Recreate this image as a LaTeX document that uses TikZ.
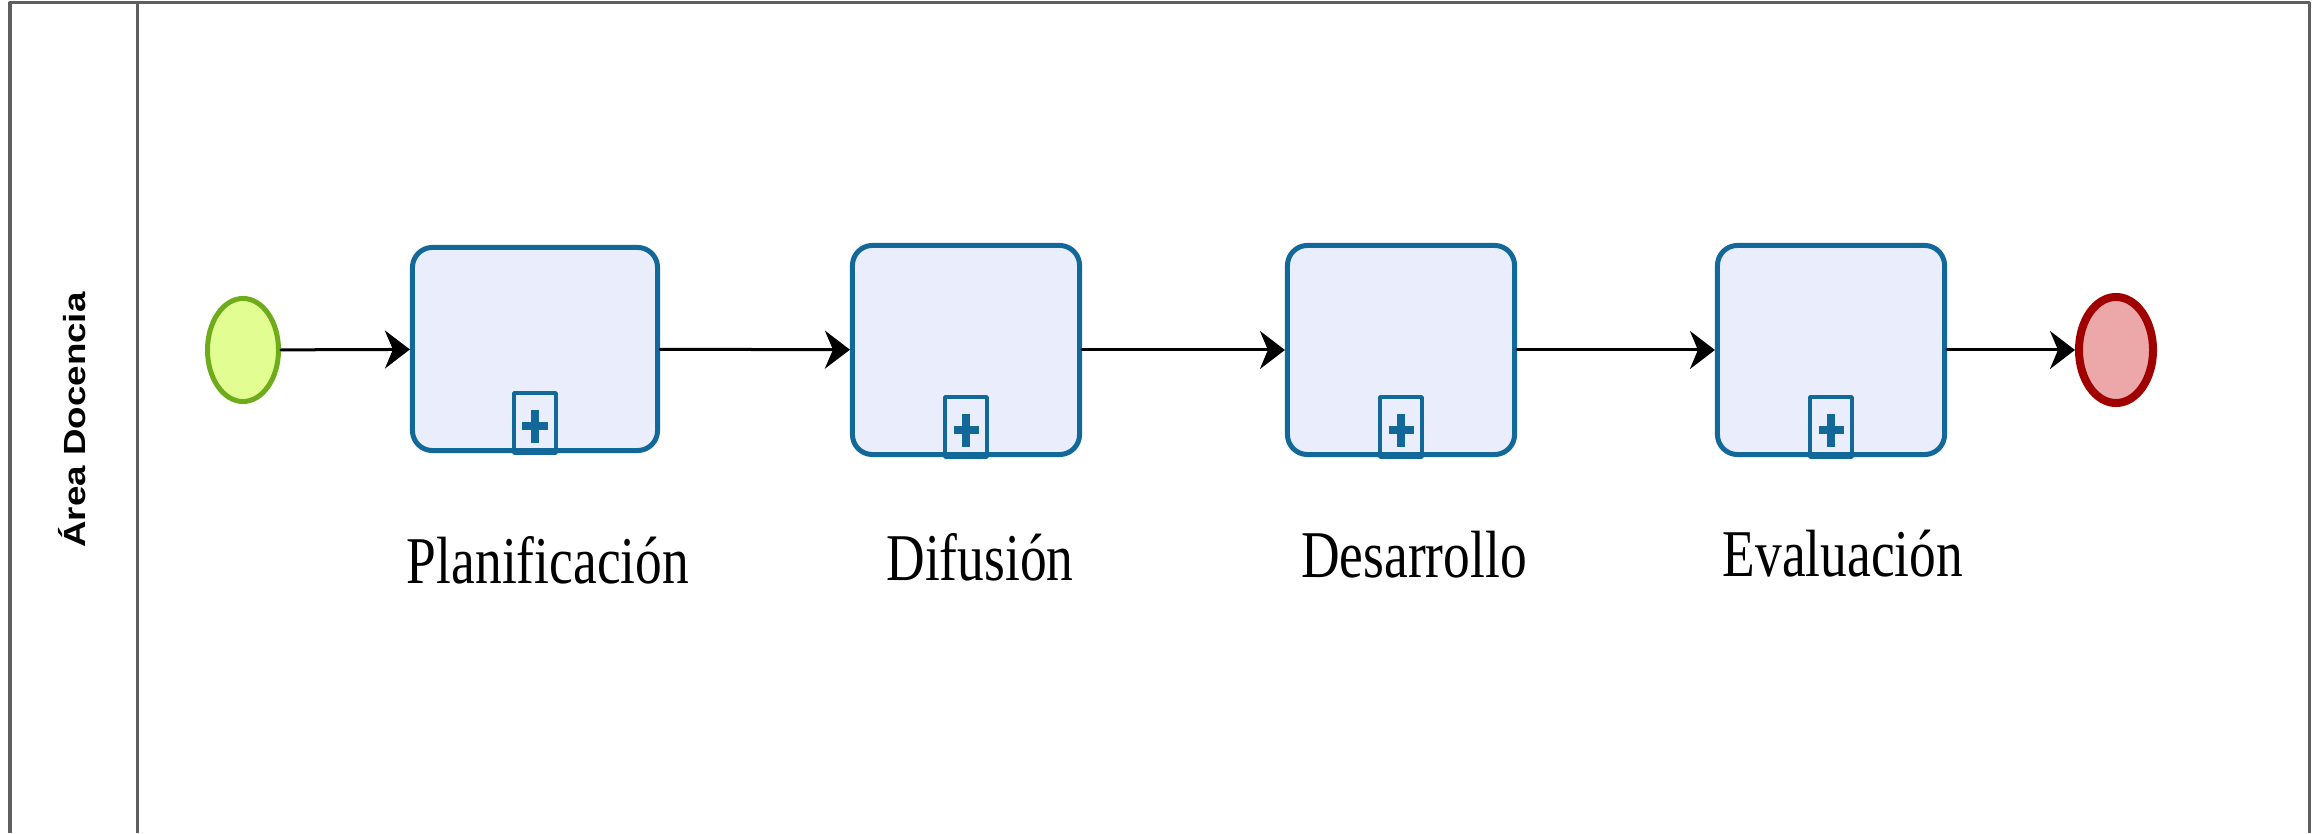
\documentclass[tikz,border=0pt]{standalone}
\usepackage{fontspec}
\setmainfont{Liberation Serif}
\newfontfamily\lanefont{Liberation Sans}
\usetikzlibrary{arrows.meta,shapes.geometric}
\definecolor{taskblue}{RGB}{18,104,152}
\definecolor{taskfill}{RGB}{234,238,252}
\definecolor{startline}{RGB}{110,172,28}
\definecolor{startfill}{RGB}{226,254,146}
\definecolor{endline}{RGB}{160,0,0}
\definecolor{endfill}{RGB}{236,168,168}
\definecolor{poolgray}{RGB}{95,95,95}
\begin{document}
\begin{tikzpicture}[x=0.01cm, y=0.01cm, line cap=round, line join=round, >={Stealth[length=0.25cm, width=0.38cm, inset=0.08cm]}]
	\tikzset{task/.style={draw=taskblue, fill=taskfill, line width=0.05cm, rounded corners=0.2cm, inner sep=0pt},
		flow/.style={->, line width=0.03cm, black},
		tasklabel/.style={anchor=base, inner sep=0pt, font=\fontsize{15.2}{18}\selectfont}}
	\useasboundingbox (0,0) rectangle (2318,833);
	% pool and lane
	\draw[poolgray, line width=0.03cm, line cap=butt] (10,0) -- (10,830) -- (2309,830) -- (2309,0);
	\draw[poolgray, line width=0.03cm, line cap=butt] (137,830) -- (137,0);
	\node[rotate=90, inner sep=0pt] (lane) at (72,413) {\lanefont\bfseries\fontsize{8.7}{10}\selectfont\scalebox{1.2}[1]{Área Docencia}};
	% events and subprocesses
	\node[ellipse, draw=startline, fill=startfill, line width=0.05cm, minimum width=0.71cm, minimum height=1.03cm, inner sep=0pt] (start) at (243,483) {};
	\node[task, minimum width=2.45cm, minimum height=2.03cm] (plan) at (535,484) {};
	\node[task, minimum width=2.27cm, minimum height=2.09cm] (dif) at (966,483) {};
	\node[task, minimum width=2.27cm, minimum height=2.09cm] (des) at (1401,483) {};
	\node[task, minimum width=2.27cm, minimum height=2.09cm] (eval) at (1831,483) {};
	\node[ellipse, draw=endline, fill=endfill, line width=0.08cm, minimum width=0.74cm, minimum height=1.06cm, inner sep=0pt] (fin) at (2116,483) {};
	% subprocess markers
	\foreach \t in {plan,dif,des,eval}{
		\draw[taskblue, line width=0.035cm, line cap=butt] ([xshift=-0.21cm]\t.south) rectangle ([xshift=0.21cm, yshift=0.6cm]\t.south);
		\draw[taskblue, line width=0.08cm, line cap=butt] ([xshift=-0.125cm, yshift=0.27cm]\t.south) -- ([xshift=0.125cm, yshift=0.27cm]\t.south);
		\draw[taskblue, line width=0.08cm, line cap=butt] ([yshift=0.105cm]\t.south) -- ([yshift=0.435cm]\t.south);
	}
	% sequence flows
	\draw[flow] (start) -- (plan);
	\draw[flow] (plan) -- (dif);
	\draw[flow] (dif) -- (des);
	\draw[flow] (des) -- (eval);
	\draw[flow] (eval) -- (fin);
	% labels
	\node[tasklabel] (lplan) at (548,250) {\scalebox{1}[1.25]{Planificación}};
	\node[tasklabel] (ldif) at (980,253) {\scalebox{1}[1.25]{Difusión}};
	\node[tasklabel] (ldes) at (1414,255) {\scalebox{1}[1.25]{Desarrollo}};
	\node[tasklabel] (leval) at (1843,257) {\scalebox{1}[1.25]{Evaluación}};
\end{tikzpicture}
\end{document}
